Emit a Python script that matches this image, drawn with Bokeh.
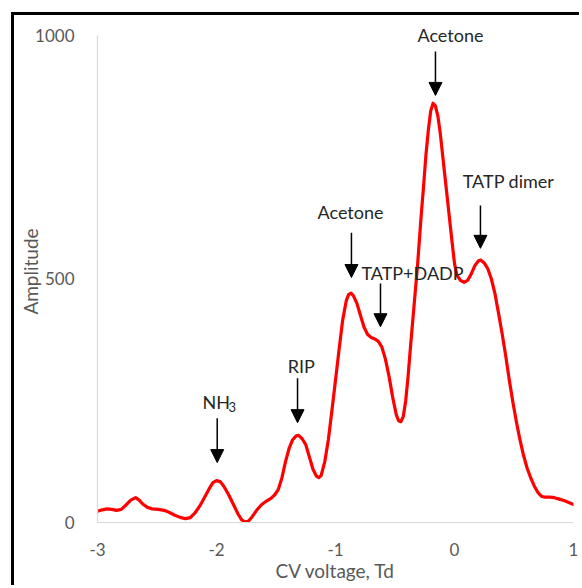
from bokeh.plotting import figure
from bokeh.models import Range1d, FixedTicker, Arrow, NormalHead, ColumnDataSource
from bokeh.core.properties import value
from bokeh.embed import file_html
from bokeh.resources import INLINE

# ---- data ----
cv_voltage = [-3.00, -2.96, -2.92, -2.88, -2.84, -2.80, -2.76, -2.72, -2.68, -2.65,
              -2.62, -2.58, -2.54, -2.49, -2.44, -2.40, -2.35, -2.30, -2.26, -2.22,
              -2.18, -2.14, -2.10, -2.06, -2.03, -2.00, -1.97, -1.94, -1.90, -1.86,
              -1.82, -1.79, -1.76, -1.73, -1.70, -1.66, -1.62, -1.58, -1.54, -1.51,
              -1.48, -1.45, -1.42, -1.39, -1.36, -1.33, -1.31, -1.28, -1.25, -1.22,
              -1.19, -1.16, -1.14, -1.12, -1.09, -1.06, -1.03, -1.00, -0.97, -0.94,
              -0.91, -0.89, -0.87, -0.85, -0.82, -0.79, -0.76, -0.73, -0.70, -0.67,
              -0.64, -0.61, -0.58, -0.55, -0.52, -0.49, -0.47, -0.45, -0.43, -0.41,
              -0.39, -0.37, -0.34, -0.31, -0.28, -0.26, -0.24, -0.22, -0.20, -0.18,
              -0.16, -0.14, -0.12, -0.10, -0.08, -0.06, -0.04, -0.02, 0.00, 0.02,
              0.05, 0.08, 0.11, 0.14, 0.17, 0.20, 0.22, 0.25, 0.28, 0.31,
              0.34, 0.37, 0.40, 0.43, 0.46, 0.49, 0.52, 0.55, 0.58, 0.61,
              0.64, 0.67, 0.70, 0.73, 0.76, 0.80, 0.84, 0.88, 0.92, 0.96,
              1.00]
amplitude = [23, 26, 28, 27, 25, 27, 36, 46, 51, 46,
             38, 31, 28, 27, 25, 21, 15, 10, 8, 10,
             20, 34, 52, 70, 82, 86, 84, 75, 58, 38,
             18, 6, 1, 3, 12, 26, 37, 44, 50, 57,
             68, 92, 125, 152, 170, 178, 179, 172, 160, 135,
             110, 95, 92, 97, 125, 170, 230, 292, 355, 415,
             455, 468, 471, 466, 450, 425, 401, 386, 380, 377,
             372, 360, 335, 300, 258, 222, 209, 207, 218, 250,
             300, 360, 445, 530, 630, 690, 755, 805, 845, 861,
             855, 835, 800, 755, 710, 665, 620, 575, 532, 508,
             497, 493, 497, 510, 527, 537, 539, 533, 521, 500,
             470, 430, 388, 343, 293, 248, 207, 170, 138, 112,
             92, 75, 62, 54, 52, 52, 51, 48, 45, 41,
             37]

x_ticks = [-3, -2, -1, 0, 1]
x_tick_labels = ["-3", "-2", "-1", "0", "1"]
y_ticks = [0, 500, 1000]
y_tick_labels = ["0", "500", "1000"]

label_text = ["Acetone", "TATP dimer", "Acetone", "TATP+DADP", "RIP", "NH"]
label_x = [-0.034, 0.454, -0.874, -0.353, -1.288, -2.003]
label_y = [1000, 702, 637, 513, 322, 247]
sub_text = ["3"]
sub_x = [-1.899]
sub_y = [237]

arrow_x = [-0.16, 0.218, -0.866, -0.622, -1.319, -1.994]
arrow_y_start = [967, 651, 595, 491, 296, 214]
arrow_y_end = [877, 563, 503, 402, 205, 123]

FONT = "Lato"

# canvas starts at (14, 15) of the window because of margin + frame border
p = figure(width=568, height=573,
           x_range=Range1d(-3, 1), y_range=Range1d(0, 1030.8),
           output_backend="svg", toolbar_location=None,
           min_border_left=83, min_border_right=9,
           min_border_top=5, min_border_bottom=66)
p.margin = (12, 0, 0, 11)
p.styles = {"border-top": "3px solid black", "border-left": "3px solid black"}
p.xgrid.visible = False
p.ygrid.visible = False
p.outline_line_color = None
p.background_fill_color = "white"
p.border_fill_color = "white"

for ax in (p.xaxis[0], p.yaxis[0]):
    ax.axis_line_color = "#d9d9d9"
    ax.axis_line_width = 1.2
    ax.major_tick_line_color = None
    ax.minor_tick_line_color = None
    ax.major_label_text_color = "#595959"
    ax.major_label_text_font = FONT
    ax.major_label_text_font_size = "17px"
    ax.axis_label_text_color = "#595959"
    ax.axis_label_text_font = FONT
    ax.axis_label_text_font_size = "19px"
    ax.axis_label_text_font_style = "normal"

p.xaxis.ticker = FixedTicker(ticks=x_ticks)
p.xaxis.major_label_overrides = dict(zip(x_ticks, x_tick_labels))
p.yaxis.ticker = FixedTicker(ticks=y_ticks)
p.yaxis.major_label_overrides = dict(zip(y_ticks, y_tick_labels))
p.xaxis.bounds = (-3, 1)
p.yaxis.bounds = (0, 1000)
p.xaxis.major_label_standoff = 14
p.yaxis.major_label_standoff = 17
p.xaxis.axis_label = "CV voltage, Td"
p.yaxis.axis_label = "Amplitude"
p.xaxis.axis_label_standoff = 0
p.yaxis.axis_label_standoff = -10

p.line(cv_voltage, amplitude, line_color="#ff0000", line_width=3.2,
       line_join="round", line_cap="round")

p.text(label_x, label_y, text=label_text, text_align="center",
       text_baseline="middle", text_font=value(FONT), text_font_size="18px",
       text_color="#262626")
p.text(sub_x, sub_y, text=sub_text, text_align="left",
       text_baseline="middle", text_font=value(FONT), text_font_size="13px",
       text_color="#262626")

arrow_src = ColumnDataSource(dict(x=arrow_x, y0=arrow_y_start, y1=arrow_y_end))
p.add_layout(Arrow(end=NormalHead(size=13, fill_color="black", line_color="black"),
                   x_start="x", y_start="y0", x_end="x", y_end="y1",
                   source=arrow_src, line_color="black", line_width=1.5))

open("out.html", "w").write(file_html(p, INLINE))
